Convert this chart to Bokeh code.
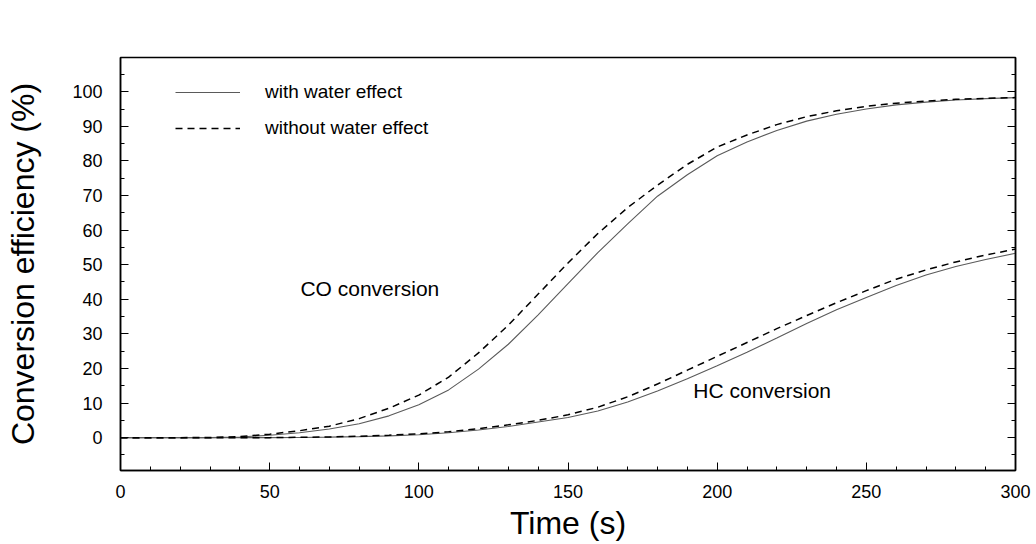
from bokeh.plotting import figure
from bokeh.models import LinearAxis, FixedTicker, Range1d, Legend, LegendItem, Label
from bokeh.embed import file_html
from bokeh.resources import INLINE

# ---- data ----
time_s = [0, 10, 20, 30, 40, 50, 60, 70, 80, 90, 100, 110, 120, 130, 140, 150,
          160, 170, 180, 190, 200, 210, 220, 230, 240, 250, 260, 270, 280, 290, 300]

co_with_water = [0, 0, 0, 0, 0.2, 0.7, 1.4, 2.5, 4.0, 6.3, 9.5, 13.8, 19.8, 27.0, 35.5, 44.5,
                 53.5, 61.8, 69.8, 76.0, 81.5, 85.5, 88.8, 91.5, 93.5, 95.0, 96.2, 97.0, 97.6, 98.0, 98.3]
co_without_water = [0, 0, 0, 0.05, 0.3, 1.0, 2.0, 3.3, 5.5, 8.5, 12.3, 17.5, 24.5, 32.5, 41.5, 50.5,
                    59.0, 66.5, 73.0, 79.0, 84.0, 87.5, 90.5, 92.8, 94.5, 95.8, 96.7, 97.3, 97.8, 98.1, 98.3]
hc_with_water = [0, 0, 0, 0, 0, 0, 0.05, 0.15, 0.3, 0.5, 0.85, 1.4, 2.2, 3.2, 4.5, 5.8,
                 7.7, 10.3, 13.5, 17.0, 20.8, 24.7, 28.8, 33.0, 37.0, 40.5, 44.0, 47.0, 49.5, 51.5, 53.3]
hc_without_water = [0, 0, 0, 0, 0, 0, 0.1, 0.2, 0.4, 0.7, 1.1, 1.7, 2.6, 3.7, 5.0, 6.6,
                    8.8, 11.8, 15.5, 19.5, 23.5, 27.5, 31.5, 35.3, 39.0, 42.5, 45.8, 48.5, 50.8, 52.8, 54.5]

x_major_ticks = [0, 50, 100, 150, 200, 250, 300]
x_minor_ticks = [t for t in range(0, 301, 10) if t % 50 != 0]
y_major_ticks = [0, 10, 20, 30, 40, 50, 60, 70, 80, 90, 100]
y_minor_ticks = [-5, 5, 15, 25, 35, 45, 55, 65, 75, 85, 95, 105]

FONT = "Liberation Sans"

p = figure(frame_width=895, frame_height=413,
           min_border_left=120, min_border_right=21, min_border_top=57, min_border_bottom=74,
           x_range=Range1d(0, 300), y_range=Range1d(-9.5, 109.9),
           output_backend="svg", toolbar_location=None)

p.background_fill_color = "white"
p.border_fill_color = "white"
p.outline_line_color = "black"
p.outline_line_width = 1.5
p.xgrid.visible = False
p.ygrid.visible = False

solid_style = dict(line_color="#5a5a5a", line_width=1.1)
dash_style = dict(line_color="black", line_width=1.5, line_dash="7 5")

r_co_w = p.line(time_s, co_with_water, **solid_style)
r_co_wo = p.line(time_s, co_without_water, **dash_style)
r_hc_w = p.line(time_s, hc_with_water, **solid_style)
r_hc_wo = p.line(time_s, hc_without_water, **dash_style)

# axes styling
for ax in (p.xaxis[0], p.yaxis[0]):
    ax.axis_line_width = 1.5
    ax.major_tick_in = 8
    ax.major_tick_out = 0
    ax.minor_tick_in = 4
    ax.minor_tick_out = 0
    ax.major_label_text_font = FONT
    ax.major_label_text_font_size = "18px"
    ax.major_label_text_color = "black"
    ax.axis_label_text_font = FONT
    ax.axis_label_text_font_style = "normal"
    ax.axis_label_text_font_size = "32px"
    ax.axis_label_text_color = "black"

p.xaxis[0].ticker = FixedTicker(ticks=x_major_ticks, minor_ticks=x_minor_ticks)
p.yaxis[0].ticker = FixedTicker(ticks=y_major_ticks, minor_ticks=y_minor_ticks)
p.xaxis[0].axis_label = "Time (s)"
p.yaxis[0].axis_label = "Conversion efficiency (%)"
p.xaxis[0].major_label_standoff = 14
p.xaxis[0].axis_label_standoff = 4
p.yaxis[0].major_label_standoff = 18
p.yaxis[0].axis_label_standoff = 28

right_ax = LinearAxis(ticker=FixedTicker(ticks=y_major_ticks, minor_ticks=y_minor_ticks),
                      major_label_text_color=None, major_label_text_font_size="10px",
                      major_label_standoff=0,
                      axis_line_width=1.5, major_tick_in=8, major_tick_out=0,
                      minor_tick_in=4, minor_tick_out=0)
p.add_layout(right_ax, "right")

legend = Legend(items=[LegendItem(label="with water effect", renderers=[r_co_w]),
                       LegendItem(label="without water effect", renderers=[r_co_wo])],
                location=(55, 324), orientation="vertical",
                border_line_color=None, background_fill_alpha=0,
                label_text_font=FONT, label_text_font_size="19px", label_text_color="black",
                glyph_width=65, glyph_height=36, label_standoff=25,
                spacing=0, padding=0, margin=0)
p.add_layout(legend)

p.add_layout(Label(x=60.3, y=43, text="CO conversion", text_font=FONT, text_color="black",
                   text_font_size="21px", text_baseline="middle", text_align="left"))
p.add_layout(Label(x=192, y=13.6, text="HC conversion", text_font=FONT, text_color="black",
                   text_font_size="21px", text_baseline="middle", text_align="left"))

open("out.html", "w").write(file_html(p, INLINE))
